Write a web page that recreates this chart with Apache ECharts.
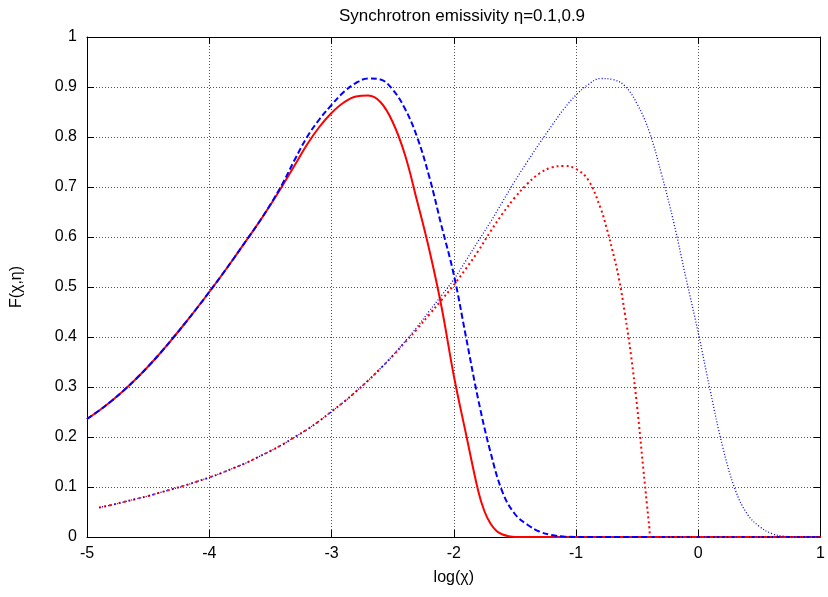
<!DOCTYPE html>
<html>
<head>
<meta charset="utf-8">
<script src="https://cdn.jsdelivr.net/npm/echarts@6/dist/echarts.min.js"></script>
<style>
  html, body { margin: 0; padding: 0; background: #fff; }
  #chart { width: 828px; height: 597px; }
</style>
</head>
<body>
<div id="chart"></div>
<script>
// x = log(chi), y = F(chi, eta)
const xTicks = [-5, -4, -3, -2, -1, 0, 1]

// red solid
const solidX = [-5, -4.9, -4.8, -4.7, -4.6, -4.5, -4.4, -4.3, -4.2, -4.1, -4, -3.9, -3.8, -3.7, -3.6, -3.5, -3.4, -3.3, -3.2, -3.1, -3, -2.9, -2.8, -2.7, -2.6, -2.5, -2.4, -2.3, -2.2, -2.1, -2, -1.9, -1.8, -1.75, -1.7, -1.65, -1.6, -1.55, -1.5, -1.4, -1.2, -1, 0, 1]
const solidY = [0.236, 0.253, 0.272, 0.293, 0.316, 0.341, 0.368, 0.397, 0.427, 0.458, 0.49, 0.523, 0.557, 0.592, 0.627, 0.664, 0.703, 0.744, 0.785, 0.82, 0.848, 0.869, 0.881, 0.883, 0.87, 0.83, 0.765, 0.672, 0.574, 0.46, 0.323, 0.206, 0.092, 0.052, 0.027, 0.012, 0.005, 0.0015, 0, 0, 0, 0, 0, 0]

// blue dashed
const dashX = [-5, -4.9, -4.8, -4.7, -4.6, -4.5, -4.4, -4.3, -4.2, -4.1, -4, -3.9, -3.8, -3.7, -3.6, -3.5, -3.4, -3.3, -3.2, -3.1, -3, -2.9, -2.8, -2.7, -2.6, -2.5, -2.4, -2.3, -2.2, -2.1, -2, -1.9, -1.8, -1.7, -1.6, -1.5, -1.4, -1.3, -1.2, -1.1, -1, -0.5, 0, 0.5, 1]
const dashY = [0.236, 0.253, 0.272, 0.293, 0.316, 0.341, 0.368, 0.397, 0.427, 0.458, 0.49, 0.523, 0.557, 0.592, 0.627, 0.665, 0.707, 0.755, 0.8, 0.835, 0.864, 0.89, 0.908, 0.917, 0.915, 0.895, 0.857, 0.8, 0.72, 0.622, 0.525, 0.4, 0.275, 0.17, 0.089, 0.046, 0.025, 0.011, 0.004, 0.001, 0, 0, 0, 0, 0]

// red dotted
const redDotX = [-4.9, -4.8, -4.7, -4.6, -4.5, -4.4, -4.3, -4.2, -4.1, -4, -3.9, -3.8, -3.7, -3.6, -3.5, -3.4, -3.3, -3.2, -3.1, -3, -2.9, -2.8, -2.7, -2.6, -2.5, -2.4, -2.3, -2.2, -2.1, -2, -1.9, -1.8, -1.7, -1.6, -1.5, -1.4, -1.3, -1.2, -1.1, -1, -0.9, -0.8, -0.75, -0.7, -0.65, -0.6, -0.55, -0.5, -0.45, -0.42, -0.4, -0.39, -0.3, 0, 0.5, 1]
const redDotY = [0.059, 0.064, 0.07, 0.076, 0.082, 0.089, 0.096, 0.103, 0.111, 0.119, 0.128, 0.138, 0.148, 0.16, 0.172, 0.185, 0.2, 0.215, 0.232, 0.251, 0.27, 0.291, 0.313, 0.337, 0.362, 0.389, 0.416, 0.445, 0.474, 0.504, 0.537, 0.572, 0.611, 0.647, 0.679, 0.706, 0.727, 0.739, 0.742, 0.736, 0.714, 0.658, 0.618, 0.571, 0.518, 0.446, 0.363, 0.26, 0.137, 0.065, 0.018, 0, 0, 0, 0, 0]

// blue dotted
const blueDotX = [-4.9, -4.8, -4.7, -4.6, -4.5, -4.4, -4.3, -4.2, -4.1, -4, -3.9, -3.8, -3.7, -3.6, -3.5, -3.4, -3.3, -3.2, -3.1, -3, -2.9, -2.8, -2.7, -2.6, -2.5, -2.4, -2.3, -2.2, -2.1, -2, -1.9, -1.8, -1.7, -1.6, -1.5, -1.4, -1.3, -1.2, -1.1, -1, -0.9, -0.8, -0.7, -0.6, -0.5, -0.4, -0.3, -0.2, -0.1, 0, 0.1, 0.2, 0.3, 0.4, 0.5, 0.6, 0.7, 0.8, 0.9, 1]
const blueDotY = [0.059, 0.064, 0.07, 0.076, 0.082, 0.089, 0.096, 0.103, 0.111, 0.119, 0.128, 0.138, 0.148, 0.16, 0.172, 0.185, 0.2, 0.215, 0.232, 0.251, 0.27, 0.291, 0.313, 0.337, 0.363, 0.391, 0.42, 0.452, 0.483, 0.515, 0.553, 0.592, 0.63, 0.671, 0.712, 0.75, 0.787, 0.822, 0.856, 0.884, 0.905, 0.917, 0.915, 0.902, 0.866, 0.81, 0.725, 0.628, 0.517, 0.408, 0.29, 0.18, 0.096, 0.046, 0.021, 0.007, 0.0015, 0, 0, 0]

const pairs = (xs, ys) => xs.map((x, i) => [x, ys[i]])

const font = 'Liberation Sans, Arial, Helvetica, sans-serif'
const gridLine = { show: true, lineStyle: { color: '#555', type: [1, 2], width: 1 } }
const tick = { show: true, inside: true, length: 7, lineStyle: { color: '#000' } }
const border = { show: true, onZero: false, lineStyle: { color: '#000', width: 1 } }
const label = { color: '#000', fontSize: 16, fontFamily: font }

const chart = echarts.init(document.getElementById('chart'))
chart.setOption({
  animation: false,
  backgroundColor: '#fff',
  title: {
    text: 'Synchrotron emissivity η=0.1,0.9',
    left: 457,
    top: 3,
    textAlign: 'center',
    textStyle: { color: '#000', fontSize: 17, fontWeight: 'normal', fontFamily: font },
  },
  grid: { left: 87, right: 1, top: 37, bottom: 60 },
  xAxis: [
    {
      type: 'value', min: xTicks[0], max: xTicks[xTicks.length - 1], interval: 1,
      position: 'bottom',
      name: 'log(χ)', nameLocation: 'middle', nameGap: 33,
      nameTextStyle: label,
      axisLine: border, axisTick: tick, splitLine: gridLine,
      axisLabel: Object.assign({ margin: 9 }, label),
    },
    {
      type: 'value', min: xTicks[0], max: xTicks[xTicks.length - 1], interval: 1,
      position: 'top',
      axisLine: border, axisTick: tick, splitLine: { show: false }, axisLabel: { show: false },
    },
  ],
  yAxis: [
    {
      type: 'value', min: 0, max: 1, interval: 0.1,
      position: 'left',
      name: 'F(χ,η)', nameLocation: 'middle', nameGap: 62, nameRotate: 90,
      nameTextStyle: label,
      axisLine: border, axisTick: tick, splitLine: gridLine,
      axisLabel: Object.assign({ margin: 10, formatter: (v) => String(Math.round(v * 10) / 10) }, label),
    },
    {
      type: 'value', min: 0, max: 1, interval: 0.1,
      position: 'right',
      axisLine: border, axisTick: tick, splitLine: { show: false }, axisLabel: { show: false },
    },
  ],
  series: [
    {
      type: 'line', data: pairs(solidX, solidY), showSymbol: false, smooth: 0.4,
      lineStyle: { color: '#ff0000', width: 2 }, z: 2,
    },
    {
      type: 'line', data: pairs(dashX, dashY), showSymbol: false, smooth: 0.4,
      lineStyle: { color: '#0000ff', width: 2, type: [6, 3] }, z: 3,
    },
    {
      type: 'line', data: pairs(redDotX, redDotY), showSymbol: false, smooth: 0.4,
      lineStyle: { color: '#ff0000', width: 2, type: [2, 3] }, z: 4,
    },
    {
      type: 'line', data: pairs(blueDotX, blueDotY), showSymbol: false, smooth: 0.4,
      lineStyle: { color: '#0000ff', width: 1.3, type: [1, 2] }, z: 5,
    },
  ],
})
</script>
</body>
</html>
